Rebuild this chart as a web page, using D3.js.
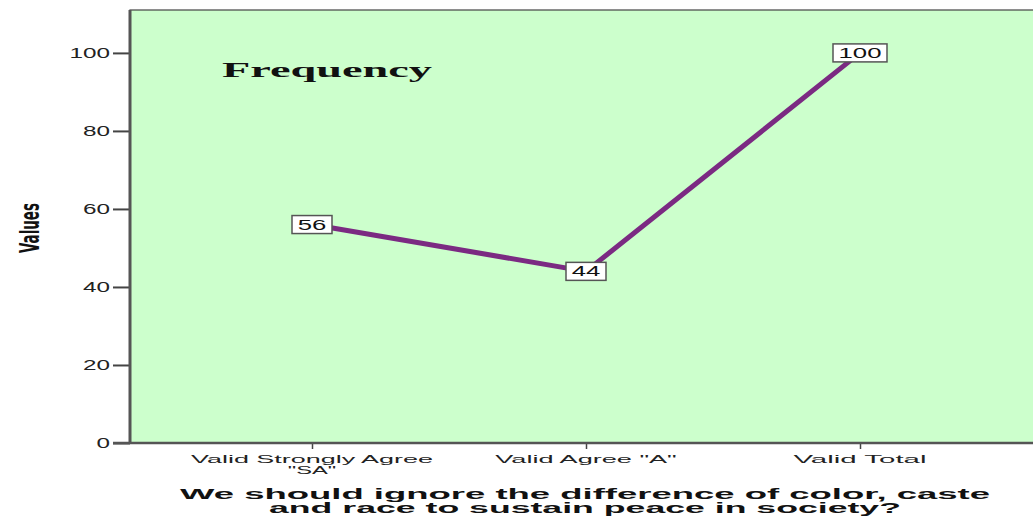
<!DOCTYPE html>
<html>
<head>
<meta charset="utf-8">
<script src="https://cdn.jsdelivr.net/npm/d3@7"></script>
<style>
  body { margin: 0; background: #fff; }
  svg { font-family: "Liberation Sans", Arial, sans-serif; }
</style>
</head>
<body>
<script>
let categories = ["Valid Strongly Agree \"SA\"", "Valid Agree \"A\"", "Valid Total"];
let categoryLines = [["Valid Strongly Agree", "\"SA\""], ["Valid Agree \"A\""], ["Valid Total"]];
let frequency = [56, 44, 100];
let yTicks = [0, 20, 40, 60, 80, 100];
let xTitleLines = ["We should ignore the difference of color, caste", "and race to sustain peace in society?"];

let w = 1033;
let h = 518;
let plotLeft = 130, plotTop = 10, plotBottom = 443, plotRight = 1040;

let xScale = d3.scalePoint()
  .domain(categories)
  .range([312, 860]);
let yScale = d3.scaleLinear()
  .domain([0, 111])
  .range([plotBottom, plotTop]);

// rough stretched width of a text, the reference is drawn wide
function wide(s, perChar) { return s.length * perChar; }

let svg = d3.select("body")
  .append("svg")
  .attr("width", w)
  .attr("height", h);

// plot background
svg.append("rect")
  .attr("x", plotLeft)
  .attr("y", plotTop)
  .attr("width", plotRight - plotLeft)
  .attr("height", plotBottom - plotTop)
  .attr("fill", "#ccffcc")
  .attr("stroke", "#444")
  .attr("stroke-width", 1.2);

// y axis
let yAxis = d3.axisLeft(yScale)
  .tickValues(yTicks)
  .tickSize(17)
  .tickPadding(3);
let gy = svg.append("g")
  .attr("transform", "translate(" + plotLeft + ",0)")
  .call(yAxis);
gy.attr("font-family", null);
gy.select(".domain").remove();
gy.selectAll(".tick line").attr("stroke", "#444").attr("stroke-width", 2);
gy.selectAll(".tick text")
  .attr("font-size", 14)
  .attr("fill", "#222")
  .attr("textLength", d => String(d).length * 13.5)
  .attr("lengthAdjust", "spacingAndGlyphs");
svg.append("line")
  .attr("x1", plotLeft).attr("x2", plotLeft)
  .attr("y1", plotTop).attr("y2", plotBottom + 1)
  .attr("stroke", "#555").attr("stroke-width", 3);

// x axis
let xAxis = d3.axisBottom(xScale).tickSize(6).tickFormat("");
let gx = svg.append("g")
  .attr("transform", "translate(0," + plotBottom + ")")
  .call(xAxis);
gx.select(".domain").remove();
gx.selectAll(".tick line").attr("stroke", "#444").attr("stroke-width", 1.5);
svg.append("line")
  .attr("x1", plotLeft - 17).attr("x2", plotRight)
  .attr("y1", plotBottom).attr("y2", plotBottom)
  .attr("stroke", "#555").attr("stroke-width", 2.5);

categories.forEach((c, i) => {
  categoryLines[i].forEach((s, j) => {
    svg.append("text")
      .attr("x", xScale(c))
      .attr("y", 463 + j * 11)
      .attr("text-anchor", "middle")
      .attr("font-size", 11.5)
      .attr("fill", "#222")
      .attr("textLength", wide(s, 12.1))
      .attr("lengthAdjust", "spacingAndGlyphs")
      .text(s);
  });
});

// line
let line = d3.line()
  .x((d, i) => xScale(categories[i]))
  .y(d => yScale(d));
svg.append("path")
  .datum(frequency)
  .attr("d", line)
  .attr("fill", "none")
  .attr("stroke", "#7b2a82")
  .attr("stroke-width", 5)
  .attr("stroke-linejoin", "round");

// value labels
let labels = svg.selectAll(".lbl")
  .data(frequency)
  .enter()
  .append("g")
  .attr("class", "lbl")
  .attr("transform", (d, i) => "translate(" + xScale(categories[i]) + "," + yScale(d) + ")");
labels.append("rect")
  .attr("x", d => -(String(d).length * 14 + 12) / 2)
  .attr("y", -9)
  .attr("width", d => String(d).length * 14 + 12)
  .attr("height", 18)
  .attr("fill", "#fff")
  .attr("stroke", "#555")
  .attr("stroke-width", 1.5);
labels.append("text")
  .attr("x", 0)
  .attr("y", 5)
  .attr("text-anchor", "middle")
  .attr("font-size", 14)
  .attr("fill", "#111")
  .attr("textLength", d => String(d).length * 14.3)
  .attr("lengthAdjust", "spacingAndGlyphs")
  .text(d => d);

// inner title
svg.append("text")
  .attr("x", 222)
  .attr("y", 77)
  .style("font-family", "'Liberation Serif', 'DejaVu Serif', serif")
  .style("font-weight", "bold")
  .style("font-size", "20px")
  .attr("fill", "#111")
  .attr("textLength", 210)
  .attr("lengthAdjust", "spacingAndGlyphs")
  .text("Frequency");

// y title
svg.append("text")
  .attr("transform", "translate(39,228) rotate(-90)")
  .attr("text-anchor", "middle")
  .style("font-family", "'Liberation Sans Narrow', 'DejaVu Sans Condensed', sans-serif")
  .style("font-weight", "bold")
  .style("font-size", "27px")
  .attr("fill", "#111")
  .attr("textLength", 50)
  .attr("lengthAdjust", "spacingAndGlyphs")
  .text("Values");

// x title
let titleWidths = [810, 632];
xTitleLines.forEach((s, i) => {
  svg.append("text")
    .attr("x", 585)
    .attr("y", 499 + i * 14)
    .attr("text-anchor", "middle")
    .attr("font-weight", "bold")
    .attr("font-size", 14.5)
    .attr("fill", "#111")
    .attr("textLength", titleWidths[i])
    .attr("lengthAdjust", "spacingAndGlyphs")
    .text(s);
});
</script>
</body>
</html>
